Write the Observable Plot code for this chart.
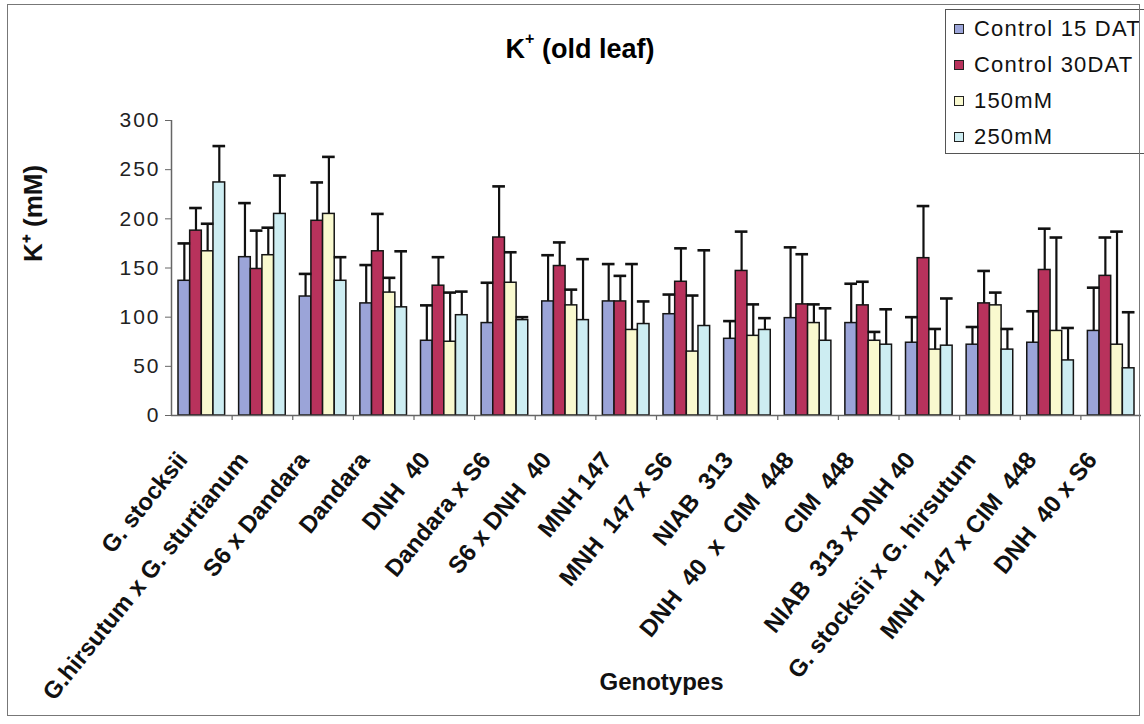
<!DOCTYPE html>
<html>
<head>
<meta charset="utf-8">
<script src="https://cdn.jsdelivr.net/npm/d3@7"></script>
<script src="https://cdn.jsdelivr.net/npm/@observablehq/plot@0.6"></script>
<style>
  html, body { margin: 0; padding: 0; background: #fff; }
  #wrap { position: relative; width: 1144px; height: 724px; overflow: hidden; background: #fff;
          font-family: "Liberation Sans", Arial, sans-serif; }
  #chart { position: absolute; left: 0; top: 0; }
  #border { position: absolute; left: 7px; top: 4px; width: 1133px; height: 712px;
            border: 1.5px solid #777; box-sizing: border-box; pointer-events: none; }
  #title { position: absolute; left: 0; width: 1160px; top: 35px; text-align: center;
           font-weight: bold; font-size: 27px; line-height: 1; }
  #title sup { font-size: 16px; position: relative; top: -4px; }
  #legend { position: absolute; left: 945px; top: 9px; width: 210px; height: 145px;
            border: 1.5px solid #555; box-sizing: border-box; background: #fff; padding: 1px 0 0 8px; }
  #legend * { font-family: "Liberation Sans", Arial, sans-serif !important; }
  #legend div, #legend span { font-size: 22px !important; letter-spacing: 1.2px; color: #111; }
  #legend > div > div { height: 36px; display: flex; align-items: center; padding: 0 !important; margin: 0 !important; white-space: nowrap; }
  #legend svg { border: 1.5px solid #222; box-sizing: border-box; margin-right: 10px !important; }
  #chart g[aria-label="y-axis tick label"] text { letter-spacing: 2px; }
</style>
</head>
<body>
<div id="wrap">
  <div id="chart"></div>
  <div id="title">K<sup>+</sup> (old leaf)</div>
  <div id="legend"></div>
  <div id="border"></div>
</div>
<script>
// ---- data ----
const genotypes = [
  "G. stocksii", "G.hirsutum x G. sturtianum", "S6 x Dandara", "Dandara", "DNH  40",
  "Dandara x S6", "S6 x DNH  40", "MNH 147", "MNH  147 x S6", "NIAB  313",
  "DNH  40  x  CIM  448", "CIM  448", "NIAB  313 x DNH 40", "G. stocksii x G. hirsutum",
  "MNH  147 x CIM  448", "DNH  40 x S6"
];
const seriesNames = ["Control 15 DAT", "Control 30DAT", "150mM", "250mM"];
const seriesColors = ["#9ba4d8", "#b8325c", "#f9f9cf", "#cdedf2"];

const control15 = [137, 161, 121, 114, 76, 94, 116, 116, 103, 78, 99, 94, 74, 72, 74, 86];
const control15Err = [38, 55, 23, 39, 36, 41, 47, 38, 20, 18, 72, 40, 26, 18, 32, 44];
const control30 = [188, 149, 198, 167, 132, 181, 152, 116, 136, 147, 113, 112, 160, 114, 148, 142];
const control30Err = [23, 39, 39, 38, 29, 52, 24, 26, 34, 40, 51, 24, 53, 33, 42, 39];
const salt150 = [167, 163, 205, 125, 75, 135, 112, 87, 65, 81, 94, 76, 67, 112, 86, 72];
const salt150Err = [28, 28, 58, 15, 50, 31, 16, 67, 57, 32, 19, 9, 21, 13, 95, 115];
const salt250 = [237, 205, 137, 110, 102, 97, 97, 93, 91, 87, 76, 72, 71, 67, 56, 48];
const salt250Err = [37, 39, 24, 57, 24, 3, 62, 23, 77, 12, 33, 36, 48, 21, 33, 57];

const yTicks = [0, 50, 100, 150, 200, 250, 300];
const yLabel = "K⁺ (mM)";
const xLabel = "Genotypes";

// ---- layout ----
const W = 1144, H = 724;
const mL = 171, mR = 3, mT = 120, mB = 309;
const bw = (W - mL - mR) / genotypes.length;
const pad = 7;
const barW = (bw - 2 * pad) / 4;

const means = [control15, control30, salt150, salt250];
const errs = [control15Err, control30Err, salt150Err, salt250Err];
const tables = means.map((m, i) => genotypes.map((g, j) => ({g, v: m[j], e: errs[i][j]})));

const marks = [];
tables.forEach((t, i) => {
  const inL = pad + i * barW, inR = bw - pad - (i + 1) * barW;
  marks.push(Plot.barY(t, {x: "g", y: "v", fill: seriesColors[i], stroke: "#151515", strokeWidth: 1.5,
                           insetLeft: inL, insetRight: inR}));
});
tables.forEach((t, i) => {
  const inL = pad + i * barW, inR = bw - pad - (i + 1) * barW;
  const dx = pad + (i + 0.5) * barW - bw / 2;
  marks.push(Plot.ruleX(t, {x: "g", y1: "v", y2: d => d.v + d.e, dx, stroke: "#111", strokeWidth: 2.2}));
  marks.push(Plot.tickY(t, {x: "g", y: d => d.v + d.e, insetLeft: inL - 0.5, insetRight: inR - 0.5,
                            stroke: "#111", strokeWidth: 2.6}));
});

const chart = Plot.plot({
  width: W, height: H,
  marginLeft: mL, marginRight: mR, marginTop: mT, marginBottom: mB,
  style: {fontFamily: "Liberation Sans, Arial, sans-serif", fontSize: "20px", color: "#111", background: "transparent"},
  x: {type: "band", domain: genotypes, padding: 0, round: false, axis: null},
  y: {domain: [0, 300], axis: null},
  marks: [
    ...marks,
    Plot.ruleY([0], {stroke: "#666", strokeWidth: 1.5}),
    Plot.ruleX([genotypes[0]], {dx: -bw / 2, y1: 0, y2: 300, stroke: "#666", strokeWidth: 1.5}),
    Plot.ruleX(genotypes.slice(1), {x: d => d, dx: -bw / 2, y1: 0, y2: -5, stroke: "#666", strokeWidth: 1.2}),
    Plot.axisY({ticks: yTicks, tickSize: 6, tickPadding: 5, fontSize: 21, stroke: "#666", fill: "#222", label: null}),
    Plot.axisX({tickSize: 0, tickPadding: 40, tickRotate: -51, dx: -19, fontSize: 24, fontWeight: "bold",
                fill: "#111", label: null}),
    Plot.text([yLabel], {frameAnchor: "left", rotate: -90, dx: -138, dy: -6, fontSize: 26, fontWeight: "bold", fill: "#111"}),
    Plot.text([xLabel], {frameAnchor: "bottom", dy: 274, dx: 5, fontSize: 24, fontWeight: "bold", fill: "#111"})
  ]
});
document.getElementById("chart").appendChild(chart);

const legend = Plot.legend({
  color: {type: "ordinal", domain: seriesNames, range: seriesColors},
  legend: "swatches", columns: 1, swatchSize: 10,
  style: {fontSize: "22px", fontFamily: "Liberation Sans, Arial, sans-serif"}
});
document.getElementById("legend").appendChild(legend);
</script>
</body>
</html>
